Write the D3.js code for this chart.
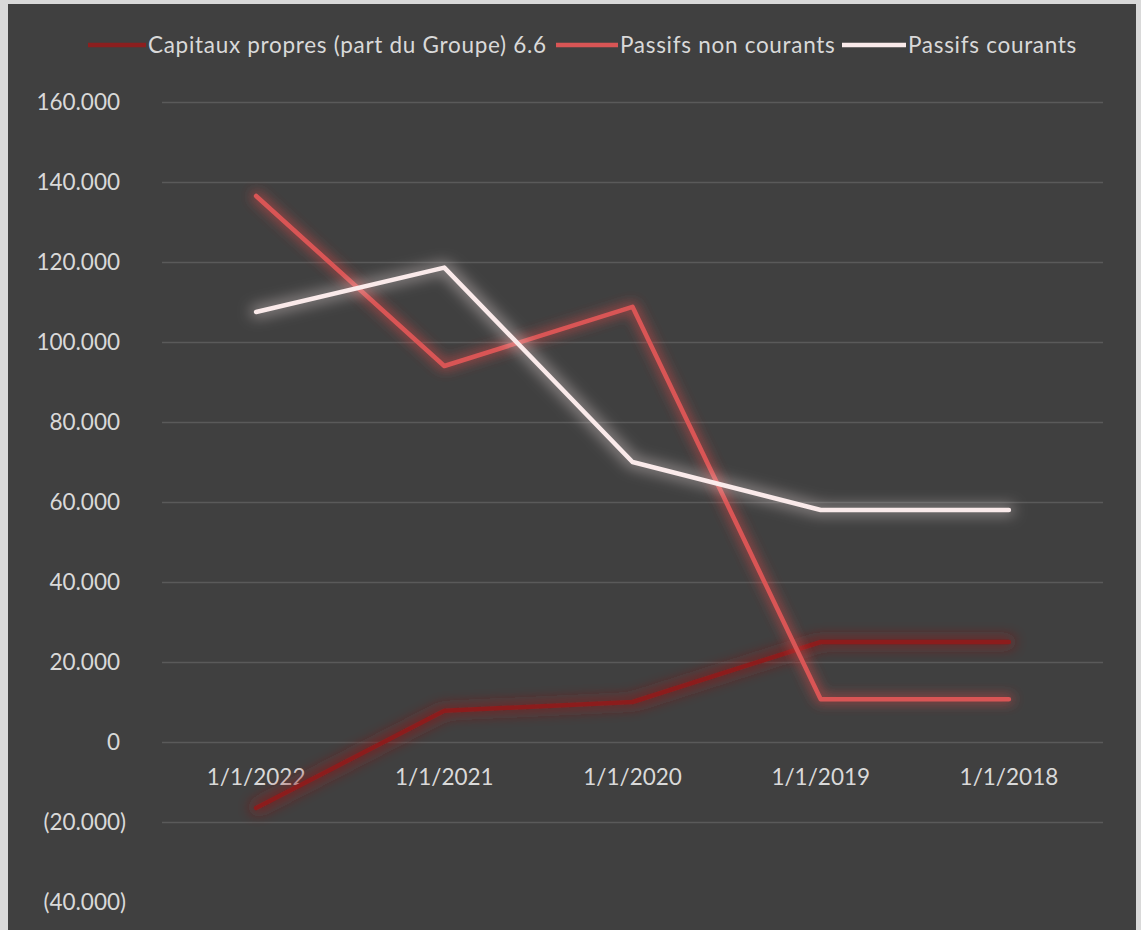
<!DOCTYPE html>
<html><head><meta charset="utf-8">
<script src="https://cdn.jsdelivr.net/npm/d3@7"></script>
<style>
html,body{margin:0;padding:0;background:#d9d9d9;}
svg{display:block;}
</style></head>
<body>
<svg id="c" width="1141" height="930"></svg>
<script>
const categories = ["1/1/2022","1/1/2021","1/1/2020","1/1/2019","1/1/2018"];
const capitaux = [-16500, 7800, 10000, 25000, 25000];
const passifsNonCourants = [136500, 94000, 108800, 10700, 10700];
const passifsCourants = [107500, 118600, 70000, 58000, 58000];
const yTicks = [-40000,-20000,0,20000,40000,60000,80000,100000,120000,140000,160000];
const seriesNames = ["Capitaux propres (part du Groupe) 6.6","Passifs non courants","Passifs courants"];

const FONT = "Lato, 'Open Sans', sans-serif";
const svg = d3.select("#c");
svg.append("rect").attr("x",8).attr("y",4).attr("width",1128).attr("height",930).attr("fill","#404040");

const defs = svg.append("defs");
function glow(id, color, dil, dev, op){
  const f = defs.append("filter").attr("id",id).attr("x","-20%").attr("y","-20%").attr("width","140%").attr("height","140%");
  f.append("feMorphology").attr("in","SourceAlpha").attr("operator","dilate").attr("radius",dil).attr("result","d");
  f.append("feGaussianBlur").attr("in","d").attr("stdDeviation",dev).attr("result","b");
  f.append("feFlood").attr("flood-color",color).attr("flood-opacity",op).attr("result","c");
  f.append("feComposite").attr("in","c").attr("in2","b").attr("operator","in").attr("result","g");
  const m = f.append("feMerge");
  m.append("feMergeNode").attr("in","g");
  m.append("feMergeNode").attr("in","SourceGraphic");
}
glow("gDark","#8e1c1c",3,7,0.7);
glow("gRed","#e04848",2,6,0.55);
glow("gWhite","#e8dada",3,7,0.45);

const x = d3.scaleBand().domain(categories).range([162,1103]);
const y = d3.scaleLinear().domain([-40000,160000]).range([902,102]);

const fmt = v => {
  const s = d3.format(",")(Math.abs(v)).replace(/,/g,".");
  return v < 0 ? "(" + s + ")" : s;
};

// gridlines
const grid = svg.append("g")
  .attr("transform","translate(162,0)")
  .call(d3.axisLeft(y).tickValues(yTicks.filter(t=>t>-40000)).tickSize(-941).tickFormat(""));
grid.select(".domain").remove();
grid.selectAll("line").attr("stroke","#5a5a5a").attr("stroke-width",1.5);

// y labels
const yAxis = svg.append("g")
  .attr("transform","translate(120,0)")
  .call(d3.axisLeft(y).tickValues(yTicks).tickSize(0).tickPadding(0).tickFormat(fmt));
yAxis.select(".domain").remove();
yAxis.selectAll("text")
  .attr("fill","#d9d9d9").attr("font-family",FONT).attr("font-size",22.5)
  .attr("dx", d => d < 0 ? 6 : 0);

// x labels
const xAxis = svg.append("g")
  .attr("transform","translate(0,742)")
  .call(d3.axisBottom(x).tickSize(0).tickPadding(27));
xAxis.select(".domain").remove();
xAxis.selectAll("text").attr("fill","#d9d9d9").attr("font-family",FONT).attr("font-size",22.5);

const line = d3.line().x((d,i)=>x(categories[i])+x.bandwidth()/2).y(d=>y(d));

const series = [
  {vals:capitaux, color:"#8c1f1f", filt:"gDark"},
  {vals:passifsNonCourants, color:"#d95555", filt:"gRed"},
  {vals:passifsCourants, color:"#faeaea", filt:"gWhite"}
];
series.forEach(s=>{
  svg.append("path").datum(s.vals).attr("d",line)
    .attr("fill","none").attr("stroke",s.color).attr("stroke-width",4.5)
    .attr("stroke-linejoin","round").attr("stroke-linecap","round")
    .attr("filter","url(#"+s.filt+")");
});

// legend
const legendItems = [
  {name:seriesNames[0], color:"#8c1f1f", x0:88, x1:146},
  {name:seriesNames[1], color:"#d95555", x0:556, x1:618},
  {name:seriesNames[2], color:"#faeaea", x0:842, x1:906}
];
const lg = svg.append("g");
legendItems.forEach(it=>{
  lg.append("line").attr("x1",it.x0).attr("x2",it.x1).attr("y1",45).attr("y2",45)
    .attr("stroke",it.color).attr("stroke-width",4.5);
  lg.append("text").attr("x",it.x1+2).attr("y",45).attr("dy","0.35em")
    .attr("fill","#d9d9d9").attr("font-family",FONT).attr("font-size",22.5)
    .attr("letter-spacing",0.7)
    .text(it.name);
});
</script>
</body></html>
